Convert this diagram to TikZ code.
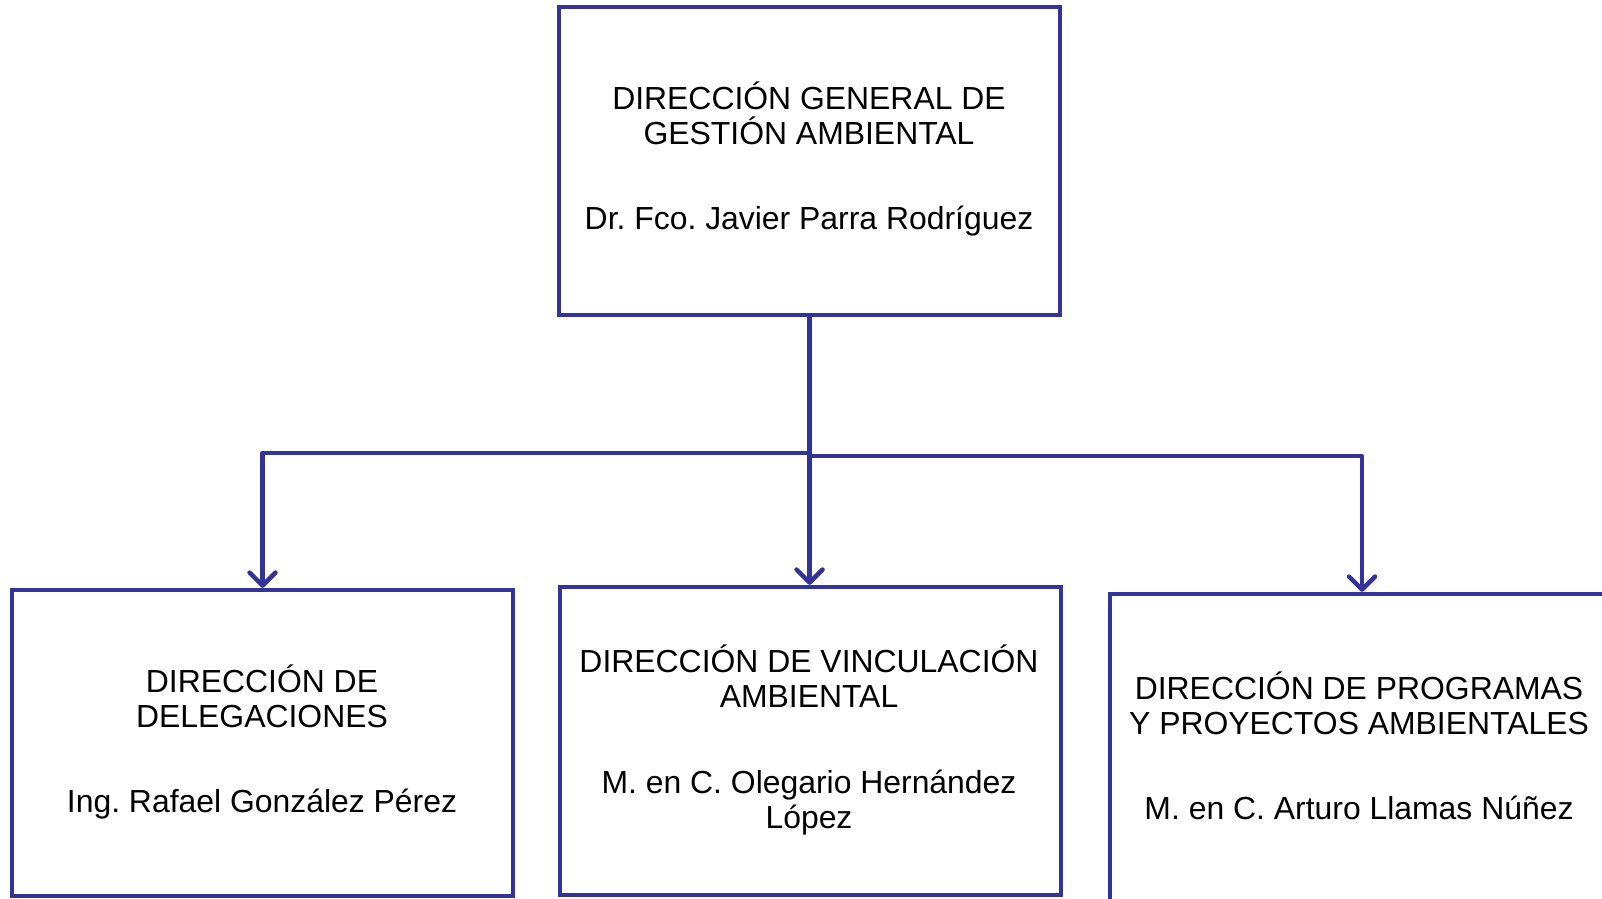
\documentclass[tikz,border=0pt]{standalone}
\usepackage{fontspec}
\setmainfont{Liberation Sans}
\usetikzlibrary{arrows.meta}
\definecolor{boxblue}{RGB}{51,51,153}
\frenchspacing
\begin{document}
\begin{tikzpicture}[x=1pt,y=-1pt,
  box/.style={draw=boxblue, line width=4.5pt, rectangle, inner sep=0pt, outer sep=0pt, anchor=north west},
  lbl/.style={font=\fontsize{31.9}{35}\selectfont, align=center, text=black, inner sep=0pt},
  link/.style={draw=boxblue, line width=4.5pt, line join=round},
  conn/.style={link, shorten >=2.2pt, -{Straight Barb[length=13pt,width=26pt,line cap=round,line join=round]}}]
\useasboundingbox (0,0) rectangle (1602,898);
\clip (0,0) rectangle (1602,898);
\fill[white] (0,0) rectangle (1602,898);
% boxes
\node[box, minimum width=501pt, minimum height=308pt] (top) at (559,7) {};
\node[box, minimum width=501pt, minimum height=306pt] (left) at (12,590) {};
\node[box, minimum width=501pt, minimum height=308pt] (mid) at (560,587) {};
\node[box, minimum width=504pt, minimum height=330pt] (right) at (1110,594) {};
% texts
\node[lbl] (ttop) at (809,159) {DIRECCIÓN GENERAL DE\\GESTIÓN AMBIENTAL\\[50pt]Dr. Fco. Javier Parra Rodríguez};
\node[lbl] (tleft) at (262,742) {DIRECCIÓN DE\\DELEGACIONES\\[50pt]Ing. Rafael González Pérez};
\node[lbl] (tmid) at (809,740) {DIRECCIÓN DE VINCULACIÓN\\AMBIENTAL\\[51pt]M. en C. Olegario Hernández\\López};
\node[lbl] (tright) at (1359,746) {DIRECCIÓN DE PROGRAMAS\\Y PROYECTOS AMBIENTALES\\[50pt]M. en C. Arturo Llamas Núñez};
% connectors
\coordinate (j) at (809.5,453);
\coordinate (jr) at (809.5,456);
\draw[link] (top.south) -- (j);
\draw[conn] (j) -| (left.north);
\draw[conn] (j) -- (j |- mid.north);
\draw[conn] (jr) -| (right.north);
\end{tikzpicture}
\end{document}
